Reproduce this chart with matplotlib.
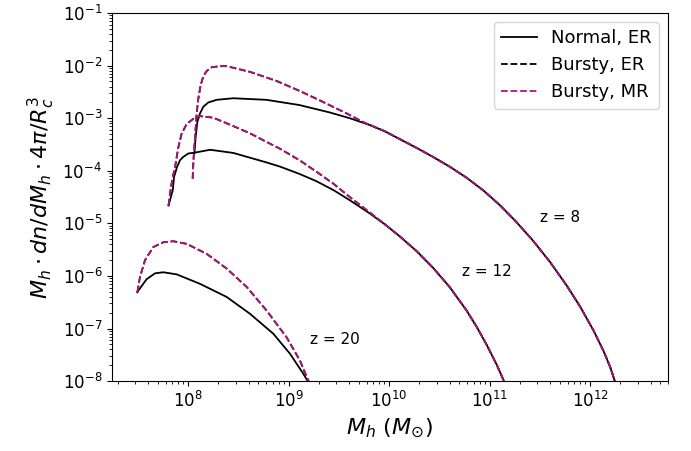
import numpy as np
import matplotlib
matplotlib.use('Agg')
import matplotlib.pyplot as plt

# log10 of halo mass and of M dn/dM 4pi/Rc^3
tail8_lm = [9.96, 10.11, 10.276, 10.441, 10.607, 10.773, 10.939, 11.104, 11.271, 11.436, 11.602,
            11.768, 11.90, 12.033, 12.133, 12.20, 12.249, 12.27]
tail8_lf = [-3.25, -3.40, -3.566, -3.739, -3.925, -4.133, -4.374, -4.655, -4.981, -5.336, -5.734,
            -6.182, -6.578, -7.03, -7.42, -7.728, -8.012, -8.15]

z8_normal_lm = [8.063, 8.076, 8.093, 8.119, 8.153, 8.202, 8.285, 8.45, 8.78, 9.11, 9.41,
                9.61, 9.81] + tail8_lm
z8_normal_lf = [-3.67, -3.36, -3.07, -2.91, -2.78, -2.70, -2.65, -2.62, -2.65, -2.75, -2.89,
                -3.00, -3.13] + tail8_lf
z8_bursty_lm = [8.046, 8.056, 8.070, 8.086, 8.103, 8.126, 8.153, 8.186, 8.236, 8.318, 8.385,
                8.62, 8.88, 9.11, 9.30, 9.45, 9.58, 9.75] + tail8_lm
z8_bursty_lf = [-4.15, -3.74, -3.36, -2.91, -2.62, -2.37, -2.20, -2.10, -2.03, -2.01, -2.01,
                -2.12, -2.29, -2.48, -2.65, -2.79, -2.91, -3.08] + tail8_lf

tail12_lm = [9.96, 10.109, 10.276, 10.441, 10.607, 10.773, 10.873, 10.972,
             11.072, 11.144, 11.17]
tail12_lf = [-5.02, -5.25, -5.53, -5.85, -6.22, -6.66, -6.97, -7.31,
             -7.69, -8.0, -8.15]

z12_normal_lm = [7.806, 7.848, 7.861, 7.89, 7.92, 7.95, 8.003, 8.05, 8.22, 8.45, 8.78,
                 8.915, 9.11, 9.28, 9.45, 9.61, 9.80] + tail12_lm
z12_normal_lf = [-4.66, -4.37, -4.12, -3.93, -3.80, -3.74, -3.67, -3.66, -3.60, -3.66, -3.84,
                 -3.92, -4.06, -4.20, -4.37, -4.56, -4.80] + tail12_lf
z12_bursty_lm = [7.806, 7.828, 7.848, 7.871, 7.904, 7.937, 7.987, 8.053, 8.119, 8.252, 8.451,
                 8.62, 8.78, 8.915, 9.11, 9.28, 9.45, 9.61, 9.80] + tail12_lm
z12_bursty_lf = [-4.66, -4.34, -4.12, -3.93, -3.55, -3.29, -3.11, -3.01, -2.96, -2.99, -3.15,
                 -3.29, -3.45, -3.58, -3.80, -4.02, -4.25, -4.50, -4.78] + tail12_lf

z20_normal_lm = [7.496, 7.505, 7.589, 7.672, 7.754, 7.888, 8.119, 8.385, 8.617, 8.849,
                 9.015, 9.147, 9.197, 9.22]
z20_normal_lf = [-6.31, -6.28, -6.06, -5.95, -5.93, -5.97, -6.15, -6.40, -6.72, -7.10,
                 -7.48, -7.86, -8.02, -8.1]
z20_bursty_lm = [7.496, 7.522, 7.572, 7.655, 7.754, 7.854, 7.987, 8.186, 8.385, 8.584,
                 8.783, 8.982, 9.114, 9.197, 9.23]
z20_bursty_lf = [-6.31, -6.02, -5.70, -5.45, -5.36, -5.34, -5.39, -5.58, -5.86, -6.21,
                 -6.66, -7.17, -7.61, -7.99, -8.1]

labels = ['z = 8', 'z = 12', 'z = 20']
label_pos = [(5e11, 1.3e-5), (9.4e10, 1.23e-6), (2.9e9, 6.3e-8)]

normal = [(z8_normal_lm, z8_normal_lf), (z12_normal_lm, z12_normal_lf), (z20_normal_lm, z20_normal_lf)]
bursty = [(z8_bursty_lm, z8_bursty_lf), (z12_bursty_lm, z12_bursty_lf), (z20_bursty_lm, z20_bursty_lf)]

magenta = '#b0127e'

fig = plt.figure(figsize=(6.91, 4.51), dpi=100)
ax = fig.add_axes([0.162, 0.155, 0.805, 0.816])

for i, ((nm, nf), (bm, bf)) in enumerate(zip(normal, bursty)):
    ax.plot(10**np.array(nm), 10**np.array(nf), color='k', lw=1.3,
            label='Normal, ER' if i == 0 else None)
    ax.plot(10**np.array(bm), 10**np.array(bf), color='k', ls='--', lw=1.3,
            label='Bursty, ER' if i == 0 else None)
    ax.plot(10**np.array(bm), 10**np.array(bf), color=magenta, ls='--', lw=1.3,
            label='Bursty, MR' if i == 0 else None)

for txt, (x, y) in zip(labels, label_pos):
    ax.text(x, y, txt, fontsize=11, ha='center', va='center')

ax.set_xscale('log')
ax.set_yscale('log')
ax.set_xlim(1.75e7, 6e12)
ax.set_ylim(1e-8, 1e-1)
ax.tick_params(labelsize=12)
ax.set_xlabel(r'$M_h\ (M_{\odot})$', fontsize=16)
ax.set_ylabel(r'$M_h \cdot dn/dM_h \cdot 4\pi/R_c^3$', fontsize=16)
ax.legend(loc='upper right', fontsize=13)

fig.savefig('out.png', dpi=100)
